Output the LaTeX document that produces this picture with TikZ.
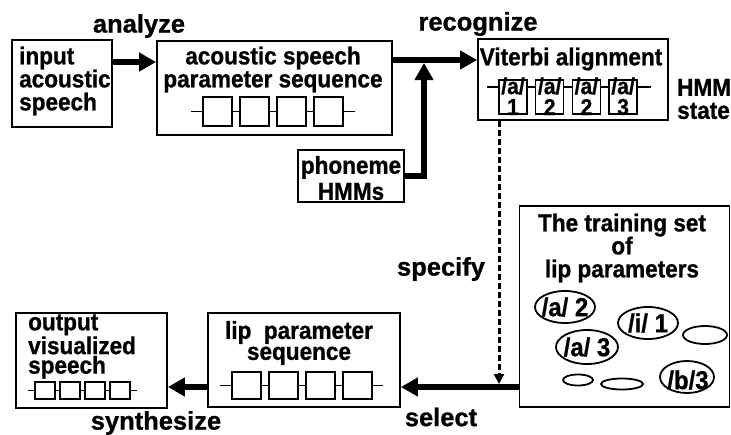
\documentclass[tikz,border=0pt]{standalone}
\usepackage{fontspec}
\setmainfont{Liberation Sans}[BoldFeatures={FakeBold=0.9}]
\newfontfamily\nrw{Liberation Sans}[FakeStretch=0.92, BoldFeatures={FakeBold=0.9,FakeStretch=0.92}]
\usetikzlibrary{arrows.meta,calc}
\tikzset{
  box/.style={draw, line width=1.8pt, inner sep=0pt},
  big/.style={line width=6pt, -{Triangle[length=17pt,width=18pt]}},
  dsh/.style={line width=3pt, dash pattern=on 6pt off 3pt, -{Triangle[length=10pt,width=10pt]}},
  lbl/.style={font=\fontsize{25.5}{27}\selectfont\bfseries, inner sep=0pt},
  txt/.style={font=\nrw\fontsize{24.5}{23}\selectfont\bfseries, inner sep=0pt, align=center},
  cbox/.style={draw, line width=1.5pt, fill=white},
  cline/.style={line width=1.5pt},
  ell/.style={line width=1.8pt},
  small/.style={font=\nrw\fontsize{23}{20}\selectfont\bfseries, inner sep=0pt},
  etxt/.style={font=\nrw\fontsize{26}{26}\selectfont\bfseries, inner sep=0pt}
}
\begin{document}
\begin{tikzpicture}[x=1pt,y=-1pt]
\useasboundingbox (0,0) rectangle (731,434);
% boxes
\node[box, minimum width=100pt, minimum height=87pt] (in) at (62,83.5) {};
\node[box, minimum width=235pt, minimum height=94pt] (ac) at (274.5,88) {};
\node[box, minimum width=106pt, minimum height=52pt] (ph) at (351,176) {};
\node[box, minimum width=190pt, minimum height=81pt] (vit) at (573,79.5) {};
\node[box, minimum width=210pt, minimum height=201pt] (tr) at (624.5,306.5) {};
\node[box, minimum width=192pt, minimum height=94pt] (lip) at (304,360) {};
\node[box, minimum width=151pt, minimum height=95pt] (out) at (91.5,360.5) {};
% texts
\node[txt, align=left, anchor=west] (tin) at (19,81) {input\\acoustic\\speech};
\node[txt] (tac) at (273,69.5) {acoustic speech\\parameter sequence};
\node[txt] (tph) at (351,178) {phoneme\\[3pt]HMMs};
\node[txt] (tvit) at (571,59) {Viterbi alignment};
\node[txt] (ttr) at (622,248) {The training set\\of\\lip parameters};
\node[txt, font=\nrw\fontsize{24.5}{21}\selectfont\bfseries] (tlip) at (299,343) {lip\ \ parameter\\sequence};
\node[txt, align=left, anchor=west, font=\nrw\fontsize{24.5}{19.5}\selectfont\bfseries] (tout) at (28,346.5) {output\\visualized\\speech};
\node[txt, align=left, anchor=west] (thmm) at (677,99) {HMM\\state};
% labels
\node[lbl] (lan) at (139,26) {analyze};
\node[lbl] (lrec) at (478,24) {recognize};
\node[lbl] (lspec) at (441,269) {specify};
\node[lbl] (lsel) at (441,417) {select};
\node[lbl] (lsyn) at (156,423) {synthesize};
% chains: acoustic
\draw[cline] (191,111.5) -- (355,111.5);
\foreach \i in {0,...,3} \draw[cbox] (203+37*\i,97) rectangle ++(29,29);
% chains: viterbi
\draw[cline] (487,87) -- (651,87);
\foreach \i/\n in {0/1,1/2,2/2,3/3} {
  \draw[cbox] (499+36.7*\i,80) rectangle ++(28,34);
  \node[small] at (513+36.7*\i,86) {/a/};
  \node[small] at (513+36.7*\i,107) {\n};
}
% chains: lip
\draw[cline] (220,385.5) -- (383,385.5);
\foreach \i in {0,...,3} \draw[cbox] (232+37*\i,372) rectangle ++(29,27);
% chains: output
\draw[cline] (28,390.5) -- (137,390.5);
\foreach \i in {0,...,3} \draw[cbox] (35+25*\i,382) rectangle ++(20,17);
% ellipses
\draw[ell] (565,307) ellipse [x radius=30pt, y radius=16pt];
\node[etxt] (e1) at (565,307) {/a/ 2};
\draw[ell] (648,323) ellipse [x radius=30pt, y radius=16pt];
\node[etxt] (e2) at (648,323) {/i/ 1};
\draw[ell] (705,335) ellipse [x radius=22pt, y radius=9pt];
\draw[ell] (587,347) ellipse [x radius=31pt, y radius=17pt];
\node[etxt] (e3) at (587,347) {/a/ 3};
\draw[ell] (578,380) ellipse [x radius=15pt, y radius=5.5pt];
\draw[ell] (622,384) ellipse [x radius=21pt, y radius=5.5pt];
\draw[ell] (687,377) ellipse [x radius=27pt, y radius=16pt];
\node[etxt] (e4) at (688,380) {/b/3};
% connectors
\coordinate (a1) at ([yshift=21.5pt]in.east);
\draw[big] (a1) -- (a1 -| ac.west);
\coordinate (a2) at ([yshift=28pt]ac.east);
\draw[big] (a2) -- (a2 -| vit.west);
\coordinate (j) at (424,63);
\draw[big] (ph.east) -| (j);
\coordinate (a3) at ([yshift=-27pt]lip.east);
\draw[big] (a3 -| tr.west) -- (a3);
\draw[big] (a3 -| lip.west) -- (a3 -| out.east);
\coordinate (s) at (499,384);
\draw[dsh] (s |- vit.south) -- (s);
\end{tikzpicture}
\end{document}
